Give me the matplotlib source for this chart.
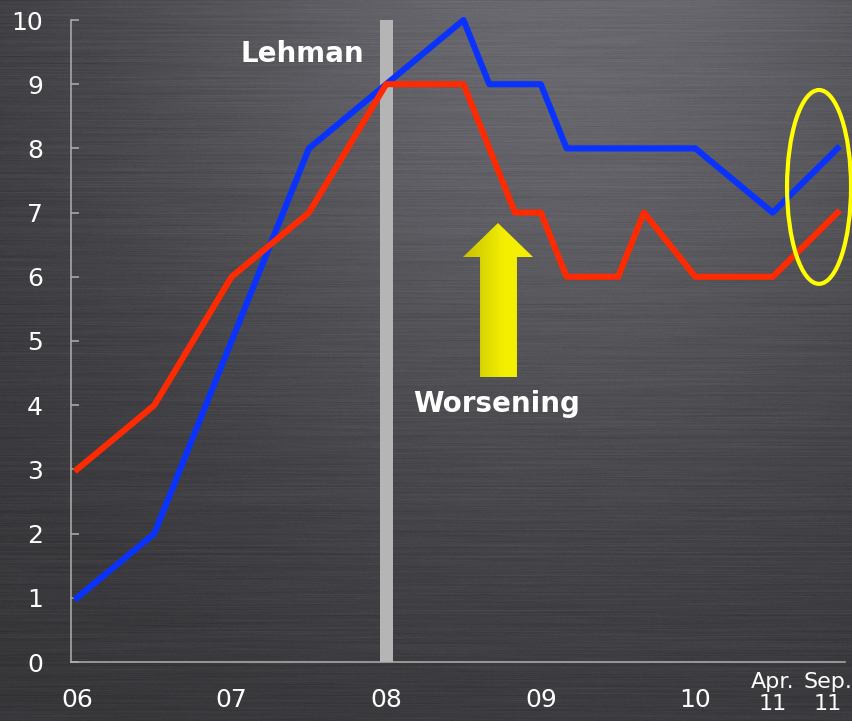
import matplotlib.pyplot as plt
import numpy as np
from matplotlib.patches import Ellipse, Polygon
from matplotlib.transforms import ScaledTranslation

# readings every half year, with extra readings after the Lehman shock
years = [2006.0, 2006.5, 2007.0, 2007.5, 2008.0, 2008.5, 2008.667, 2008.833,
         2009.0, 2009.167, 2009.333, 2009.5, 2009.667, 2010.0, 2010.5, 2010.92]
blue_vals = [1, 2, 5, 8, 9, 10, 9, 9, 9, 8, 8, 8, 8, 8, 7, 8]
red_vals = [3, 4, 6, 7, 9, 9, 8, 7, 7, 6, 6, 6, 7, 6, 6, 7]

tick_pos = [2006, 2007, 2008, 2009, 2010, 2010.5, 2010.92]
tick_labels = ['06', '07', '08', '09', '10', 'Apr.\n11', 'Sep.\n11']
lehman_year = 2008.0

W, H = 852, 721
fig = plt.figure(figsize=(W / 100, H / 100), dpi=100)

# brushed metal backdrop: bright patch near the top, darker towards the edges
rng = np.random.default_rng(7)
yy, xx = np.mgrid[0:H, 0:W]
xn, yn = xx / W, yy / H
light = 0.21 + 0.21 * np.exp(-((xn - 0.66) ** 2 / 0.32 + (yn + 0.05) ** 2 / 0.55))
noise = rng.normal(0, 1, (H, W))
k = 80
cs = np.cumsum(np.pad(noise, ((0, 0), (k, 0)), mode='wrap'), axis=1)
streak = (cs[:, k:] - cs[:, :-k]) / np.sqrt(k)
rows = rng.normal(0, 1, (H, 1))
light = light + 0.008 * streak + 0.006 * rows + 0.004 * noise
bg = np.clip(np.dstack([light * 0.98, light * 0.98, light * 1.04]), 0, 1)
bax = fig.add_axes([0, 0, 1, 1], zorder=-10)
bax.imshow(bg, aspect='auto', interpolation='bilinear')
bax.axis('off')

ax = fig.add_axes([71 / W, 59 / H, 774 / W, 642 / H])
ax.set_facecolor('none')
ax.set_xlim(2005.961, 2010.968)
ax.set_ylim(0, 10)

ax.axvspan(lehman_year - 0.042, lehman_year + 0.042, color='#b5b5b5', zorder=1, lw=0)
ax.plot(years, blue_vals, color='#0a32ff', lw=4.4, zorder=3, clip_on=False)
ax.plot(years, red_vals, color='#ff2a00', lw=4.4, zorder=4, clip_on=False)

# yellow arrow with a left-to-right shading
arrow = Polygon([(2008.607, 4.439), (2008.607, 6.308), (2008.497, 6.308),
                 (2008.723, 6.838), (2008.950, 6.308), (2008.846, 6.308),
                 (2008.846, 4.439)], closed=True, facecolor='none', edgecolor='none')
ax.add_patch(arrow)
grad = np.linspace(0, 1, 64)
shade = np.clip(grad / 0.6, 0, 1)
arr_rgb = np.zeros((2, 64, 3))
arr_rgb[..., 0] = 0.78 + 0.18 * shade
arr_rgb[..., 1] = 0.76 + 0.18 * shade
arr_rgb[..., 2] = 0.0
im = ax.imshow(arr_rgb, extent=[2008.497, 2008.950, 4.439, 6.838], aspect='auto',
               zorder=5, interpolation='bilinear')
im.set_clip_path(arrow)

ax.add_patch(Ellipse((2010.80, 7.40), 0.414, 3.02, fill=False,
                     edgecolor='#ffff00', lw=3, zorder=6, clip_on=False))

ax.text(2007.46, 9.35, 'Lehman', color='white', fontsize=20, fontweight='bold',
        ha='center', va='baseline', zorder=7)
ax.text(2008.717, 3.89, 'Worsening', color='white', fontsize=20, fontweight='bold',
        ha='center', va='baseline', zorder=7)

for side in ['top', 'right']:
    ax.spines[side].set_visible(False)
for side in ['left', 'bottom']:
    ax.spines[side].set_color('#b0b0b0')
    ax.spines[side].set_linewidth(1.1)

ax.set_yticks(range(0, 11))
ax.tick_params(axis='y', direction='in', length=6, width=1.1, color='#b0b0b0',
               labelcolor='white', labelsize=18, pad=20)
ax.set_xticks(tick_pos)
ax.set_xticklabels(tick_labels)
ax.tick_params(axis='x', length=0, labelcolor='white', labelsize=18, pad=19)

# the two month labels are smaller and sit a little higher
labels = ax.get_xticklabels()
for lab, dx in [(labels[5], 0), (labels[6], -10)]:
    lab.set_fontsize(16)
    lab.set_linespacing(1.1)
    lab.set_transform(lab.get_transform() + ScaledTranslation(dx / 100, 16 / 100, fig.dpi_scale_trans))

fig.savefig('out.png', dpi=100)
